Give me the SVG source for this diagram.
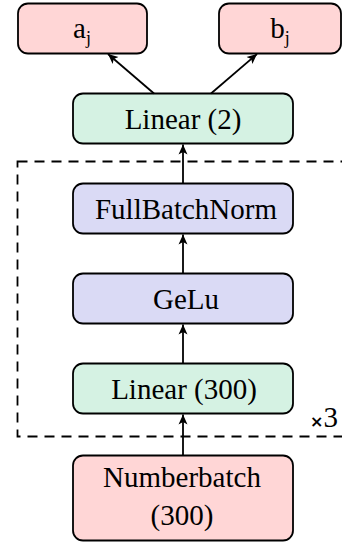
<svg xmlns="http://www.w3.org/2000/svg" width="342" height="542" viewBox="0 0 342 542">
<style>
.box{stroke:#000;stroke-width:1.8}
.red{fill:#ffd6d6}
.green{fill:#d5f2e3}
.blue{fill:#dadaf5}
text{font-family:'Liberation Serif',serif;font-size:29px;fill:#000;text-anchor:middle}
.con{stroke:#000;stroke-width:1.8;fill:none;marker-end:url(#ah)}
</style>
<defs>
<marker id="ah" markerWidth="12" markerHeight="12" refX="10" refY="6" orient="auto" markerUnits="userSpaceOnUse">
<path d="M0,1.5 L10,6 L0,10.5 L2.5,6 Z" fill="#000"/>
</marker>
</defs>
<rect x="17.5" y="161.5" width="340" height="275" fill="none" stroke="#000" stroke-width="1.8" stroke-dasharray="10,7"/>
<g id="aj"><rect class="box red" x="18" y="3.5" width="129" height="50" rx="10"/><text x="82" y="38">a<tspan font-size="18" dy="6">j</tspan></text></g>
<g id="bj"><rect class="box red" x="219" y="3.5" width="122" height="50" rx="10"/><text x="280" y="38">b<tspan font-size="18" dy="6">j</tspan></text></g>
<g id="linear2"><rect class="box green" x="73" y="93.5" width="220" height="50" rx="10"/><text x="183" y="128.5">Linear (2)</text></g>
<g id="fbn"><rect class="box blue" x="73" y="183.5" width="220" height="50" rx="10"/><text x="186" y="219">FullBatchNorm</text></g>
<g id="gelu"><rect class="box blue" x="73" y="273.5" width="220" height="50" rx="10"/><text x="186" y="309">GeLu</text></g>
<g id="linear300"><rect class="box green" x="73" y="363.5" width="220" height="50" rx="10"/><text x="184" y="398.5">Linear (300)</text></g>
<g id="numberbatch"><rect class="box red" x="73" y="455.5" width="220" height="85" rx="10"/><text x="182" y="487">Numberbatch</text><text x="182" y="525">(300)</text></g>
<g id="times3"><text x="324" y="427"><tspan font-family="'DejaVu Sans',sans-serif" font-size="16" font-weight="bold">×</tspan>3</text></g>
<g id="connectors">
<line class="con" x1="183" y1="455.5" x2="183" y2="414.5"/>
<line class="con" x1="183" y1="363.5" x2="183" y2="324.5"/>
<line class="con" x1="183" y1="273.5" x2="183" y2="234.5"/>
<line class="con" x1="183" y1="183.5" x2="183" y2="144.5"/>
<line class="con" x1="154" y1="93.5" x2="108" y2="54"/>
<line class="con" x1="211" y1="93.5" x2="257" y2="54"/>
</g>
</svg>
